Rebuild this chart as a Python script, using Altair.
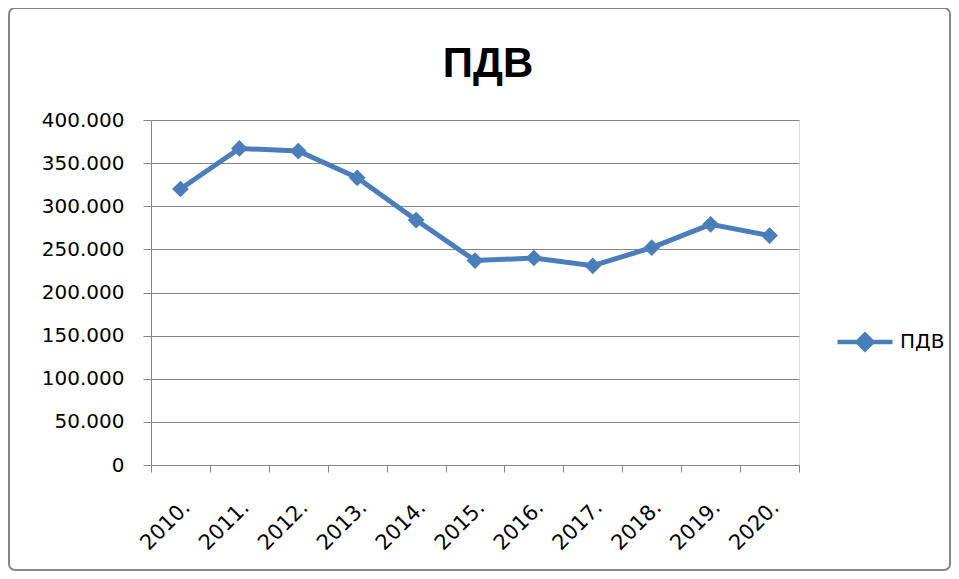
import altair as alt
import pandas as pd

# ---- data ----
years = ["2010.", "2011.", "2012.", "2013.", "2014.", "2015.",
         "2016.", "2017.", "2018.", "2019.", "2020."]
values = [320000, 367000, 364000, 333000, 284000, 237000,
          240000, 231000, 252000, 279000, 266000]
series_name = "ПДВ"
chart_title = "ПДВ"
y_ticks = [0, 50000, 100000, 150000, 200000, 250000, 300000, 350000, 400000]

df = pd.DataFrame({"year": years, "value": values, "series": [series_name] * len(years)})

FONT = "DejaVu Sans"
BLUE = "#4A7EBB"
GRAY = "#868686"
W, H = 648, 345

x_enc = alt.X(
    "year:N", sort=years, title=None,
    scale=alt.Scale(type="band", paddingInner=0, paddingOuter=0),
    axis=alt.Axis(labelAngle=-45, labelAlign="right", labelBaseline="middle",
                  labelFont=FONT, labelFontSize=21, labelColor="#000000",
                  tickBand="extent", tickSize=7, tickColor=GRAY, tickWidth=1,
                  domainColor=GRAY, domainWidth=1, labelPadding=32, labelOffset=6,
                  grid=False, labelOverlap=False),
)
y_enc = alt.Y(
    "value:Q", title=None,
    scale=alt.Scale(domain=[0, 400000], nice=False),
    axis=alt.Axis(values=y_ticks,
                  labelExpr="replace(format(datum.value, ','), ',', '.')",
                  labelFont=FONT, labelFontSize=20, labelColor="#000000",
                  tickSize=8, tickColor=GRAY, domainColor=GRAY, labelPadding=19,
                  gridColor=GRAY, gridWidth=1, grid=True),
)
color_enc = alt.Color(
    "series:N", scale=alt.Scale(range=[BLUE]),
    legend=alt.Legend(title=None, orient="none", legendX=684, legendY=192,
                      symbolType="M-1,0L1,0M-0.27,0L0,-0.27L0.27,0L0,0.27Z",
                      symbolSize=3025, symbolStrokeWidth=4.5,
                      symbolFillColor=BLUE, symbolStrokeColor=BLUE,
                      labelFont=FONT, labelFontSize=20, labelColor="#000000",
                      labelOffset=5, padding=0),
)

border = alt.Chart(pd.DataFrame({"k": [0]})).mark_rect(
    filled=False, stroke=GRAY, strokeWidth=2, cornerRadius=6
).encode(x=alt.value(-142), x2=alt.value(799), y=alt.value(-112), y2=alt.value(450))

base = alt.Chart(df)
line = base.mark_line(strokeWidth=5).encode(x=x_enc, y=y_enc, color=color_enc)
points = base.mark_point(shape="diamond", filled=True, size=280, opacity=1).encode(
    x=x_enc, y=y_enc, color=alt.Color("series:N", scale=alt.Scale(range=[BLUE]), legend=None))

chart = alt.layer(border, line, points).properties(
    width=W, height=H,
    title=alt.TitleParams(chart_title, font="Liberation Sans", fontSize=42,
                          fontWeight="bold", color="#000000", anchor="middle",
                          frame="group", baseline="top", offset=0, dx=13, dy=79),
    autosize=alt.AutoSizeParams(type="none"),
    padding={"left": 143, "top": 112, "right": 152, "bottom": 106},
).configure_view(stroke=None).configure(background="#ffffff")

chart.save("out.html", embed_options={"renderer": "svg", "actions": False})
